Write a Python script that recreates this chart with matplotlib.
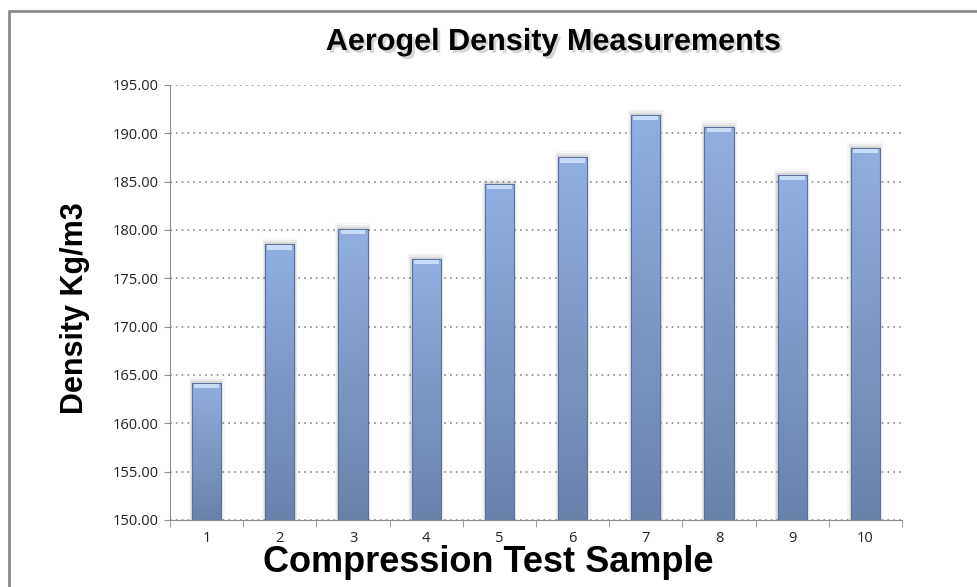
import numpy as np
import matplotlib.pyplot as plt
import matplotlib.patheffects as pe
from matplotlib.patches import Rectangle
from matplotlib.colors import LinearSegmentedColormap

samples = ['1', '2', '3', '4', '5', '6', '7', '8', '9', '10']
density = [164.2, 178.5, 180.1, 177.0, 184.8, 187.5, 191.9, 190.7, 185.7, 188.5]
y_ticks = [150, 155, 160, 165, 170, 175, 180, 185, 190, 195]

fig = plt.figure(figsize=(9.77, 5.87), dpi=100)

# grey chart border (runs off the right/bottom edge like the source)
fig.patches.append(Rectangle((8.5 / 977, -0.1), 1.2, 1 - 10.5 / 587 + 0.1,
                             transform=fig.transFigure, fill=False,
                             edgecolor='#8c8c8c', linewidth=2))

ax = fig.add_axes([170 / 977, 1 - 520 / 587, 732 / 977, 435 / 587])

x = np.arange(len(samples))
bars = ax.bar(x, density, width=0.4, color='none', edgecolor='none', zorder=3)

# vertical gradient for each bar + soft shadow
grad = np.linspace(0, 1, 256).reshape(-1, 1)
cmap = LinearSegmentedColormap.from_list('bar', ['#6a81aa', '#7e98c6', '#91afe1'])
for b in bars:
    x0, w, h = b.get_x(), b.get_width(), b.get_height()
    for k, a in [(0.015, 0.12), (0.03, 0.07), (0.045, 0.04)]:
        ax.add_patch(Rectangle((x0 - k, 150), w + 2 * k, h - 150 + k * 14,
                               facecolor='#555555', alpha=a, edgecolor='none', zorder=2))
    im = ax.imshow(grad, extent=(x0, x0 + w, 150, h), origin='lower', cmap=cmap,
                   aspect='auto', zorder=3)
    rect = Rectangle((x0, 150), w, h - 150, transform=ax.transData,
                     facecolor='none', edgecolor='#5b739c', linewidth=0.8, zorder=4)
    ax.add_patch(rect)
    im.set_clip_path(rect)
    # light bevel on top
    ax.add_patch(Rectangle((x0 + 0.03, h - 0.55), w - 0.06, 0.45,
                           facecolor='#c9dcf7', edgecolor='none', zorder=5))

ax.set_xlim(-0.5, len(samples) - 0.5)
ax.set_ylim(150, 195)
ax.set_yticks(y_ticks)
ax.set_yticklabels(['%.2f' % v for v in y_ticks])
ax.set_xticks(x)
ax.set_xticklabels(samples)
ax.set_xticks(np.arange(-0.5, len(samples), 1), minor=True)
ax.tick_params(axis='x', which='major', length=0, pad=8)
ax.tick_params(axis='x', which='minor', length=5, color='#8c8c8c')
ax.tick_params(axis='y', length=4, color='#8c8c8c', pad=4)
ax.tick_params(labelsize=10.5, labelcolor='#222222')
for lab in ax.get_xticklabels() + ax.get_yticklabels():
    lab.set_family('Open Sans')

ax.grid(axis='y', linestyle=(0, (1, 2.5)), color='#888888', linewidth=1.2, zorder=0)
ax.set_axisbelow(True)
for s in ['top', 'right']:
    ax.spines[s].set_visible(False)
ax.spines['left'].set_color('#8c8c8c')
ax.spines['bottom'].set_color('#8c8c8c')

# title with a soft drop shadow
fig.text(553 / 977, 1 - 42 / 587, 'Aerogel Density Measurements', ha='center', va='center',
         fontsize=22, fontweight='bold', family=['Liberation Sans', 'DejaVu Sans'],
         path_effects=[pe.withSimplePatchShadow(offset=(2, -2), shadow_rgbFace='#777777', alpha=0.3)])

fig.text(488 / 977, 1 - 562 / 587, 'Compression Test Sample', ha='center', va='center',
         fontsize=26, fontweight='bold', family=['Liberation Sans', 'DejaVu Sans'])
fig.text(75 / 977, 1 - 308 / 587, 'Density Kg/m3', ha='center', va='center', rotation=90,
         fontsize=22, fontweight='bold', family=['Liberation Sans', 'DejaVu Sans'])

plt.savefig('out.png', dpi=100)
